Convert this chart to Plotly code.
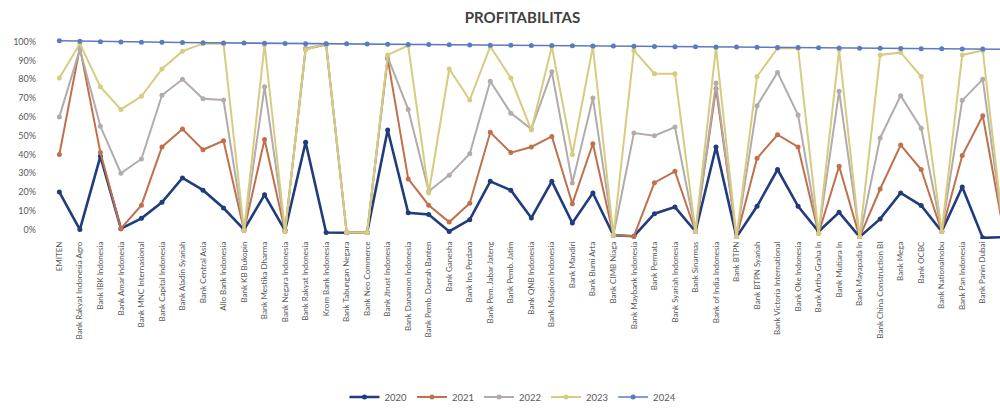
import plotly.graph_objects as go

categories = [
    "EMITEN", "Bank Rakyat Indonesia Agro", "Bank IBK Indonesia", "Bank Amar Indonesia",
    "Bank MNC Internasional", "Bank Capital Indonesia", "Bank Aladin Syariah", "Bank Central Asia",
    "Allo Bank Indonesia", "Bank KB Bukopin", "Bank Mestika Dharma", "Bank Negara Indonesia",
    "Bank Rakyat Indonesia", "Krom Bank Indonesia", "Bank Tabungan Negara", "Bank Neo Commerce",
    "Bank Jtrust Indonesia", "Bank Danamon Indonesia", "Bank Pemb. Daerah Banten", "Bank Ganesha",
    "Bank Ina Perdana", "Bank Pem. Jabar Jateng", "Bank Pemb. Jatim", "Bank QNB Indonesia",
    "Bank Maspion Indonesia", "Bank Mandiri", "Bank Bumi Arta", "Bank CIMB Niaga",
    "Bank Maybank Indonesia", "Bank Permata", "Bank Syariah Indonesia", "Bank Sinarmas",
    "Bank of India Indonesia", "Bank BTPN", "Bank BTPN Syariah", "Bank Victoria International",
    "Bank Oke Indonesia", "Bank Artha Graha In", "Bank Mutiara In", "Bank Mayapada In",
    "Bank China Construction BI", "Bank Mega", "Bank OCBC", "Bank Nationalnobu",
    "Bank Pan Indonesia", "Bank Panin Dubai", "Bank Woori Saudara",
]

y2020 = [20, 0, 39, 0.5, 6, 14.5, 27.5, 21, 11.5, 0, 18.5, -0.5, 46.5, -1.5, -1.7, -1.5,
         53, 9, 8, -1, 5.3, 25.7, 21, 6.2, 25.7, 3.5, 19.5, -3, -3.5, 8.5, 12, -1,
         44, -4, 12.4, 32, 12.4, -1, 9.2, -3.9, 5.7, 19.5, 12.8, -1, 22.7, -4.4, -4]
y2021 = [40, 97, 41, 0.5, 13, 44, 53.5, 42.5, 47.3, -0.5, 48, -1, 96, 98.5, -1.5, -1.5,
         91, 27, 13, 4, 14, 51.8, 41, 44, 49.6, 13.8, 45.7, -3, -3.5, 25, 31, -1,
         75, -4, 38, 50.5, 44, -2, 33.7, -4, 21.6, 45, 32, -1, 39.4, 60.6, 0]
y2022 = [60, 96, 55, 30, 37.6, 71.5, 80, 69.7, 69, -0.5, 76, -1, 96.5, 98.5, -1.5, -1.5,
         92, 64, 20.4, 29, 40.4, 79, 62, 53.5, 84, 24.8, 70, -3, 51.4, 50, 54.6, -1,
         78, -4, 66, 83.7, 61, -2, 73.6, -4, 48.8, 71.3, 54, -1, 68.8, 80, 0]
y2023 = [80.7, 99, 76, 64, 71, 85.5, 95, 99, 99, -0.5, 98.4, -1, 95.7, 99, -1.5, -1.5,
         93, 98, 19.5, 85.5, 69, 97.5, 80.7, 53, 97.5, 40, 97.5, -3, 95.4, 83, 83, -1,
         97, -4, 81.5, 96.6, 96.6, -2, 95.7, -4, 93, 94.3, 81.5, -1, 93, 95.4, 0]
y2024 = [100.5, 100.3, 100, 99.9, 99.8, 99.7, 99.6, 99.5, 99.4, 99.3, 99.2, 99.1, 99, 99, 98.9, 98.8,
         98.7, 98.6, 98.5, 98.4, 98.3, 98.2, 98.1, 98, 98, 97.9, 97.8, 97.7, 97.6, 97.5, 97.4, 97.3,
         97.2, 97.2, 97.1, 97, 96.9, 96.8, 96.7, 96.6, 96.5, 96.4, 96.3, 96.3, 96.2, 96.1, 96]

series_names = ["2020", "2021", "2022", "2023", "2024"]
series_values = [y2020, y2021, y2022, y2023, y2024]
colors = ["#203c7c", "#c0704c", "#b3aaaa", "#d6cc80", "#5b7bbf"]
widths = [2.6, 2, 2, 2, 1.6]

y_ticks = [0, 10, 20, 30, 40, 50, 60, 70, 80, 90, 100]
y_tick_labels = [f"{v}%" for v in y_ticks]

fig = go.Figure()
for name, vals, col, w in zip(series_names, series_values, colors, widths):
    fig.add_trace(go.Scatter(
        x=list(range(len(categories))), y=vals, name=name, mode="lines+markers",
        line=dict(color=col, width=w), marker=dict(color=col, size=5),
    ))

fig.update_layout(
    width=1000, height=409,
    margin=dict(l=45, r=0, t=38, b=170),
    paper_bgcolor="white", plot_bgcolor="white",
    font=dict(family="Lato, Open Sans, sans-serif", color="#595959"),
    title=dict(text="<b>PROFITABILITAS</b>", x=0.5, xref="paper", xanchor="center",
               y=1 - 18 / 409, yref="container", yanchor="middle",
               font=dict(size=15, color="#404040")),
    showlegend=True,
    legend=dict(orientation="h", x=0.49, xanchor="center", xref="paper",
                y=12 / 409, yref="container", yanchor="middle",
                font=dict(size=9.5, color="#595959"), itemwidth=30),
    xaxis=dict(range=[-0.7, 45.84], tickmode="array",
               tickvals=list(range(len(categories))), ticktext=categories,
               tickangle=-90, tickfont=dict(size=8, color="#595959"),
               showgrid=False, zeroline=False, showline=False, ticks=""),
    yaxis=dict(range=[-5, 102], tickmode="array", tickvals=y_ticks, ticktext=y_tick_labels,
               tickfont=dict(size=9, color="#595959"),
               showgrid=False, zeroline=False, showline=False, ticks="",
               ticklabelstandoff=8),
)

fig.write_html("out.html")
